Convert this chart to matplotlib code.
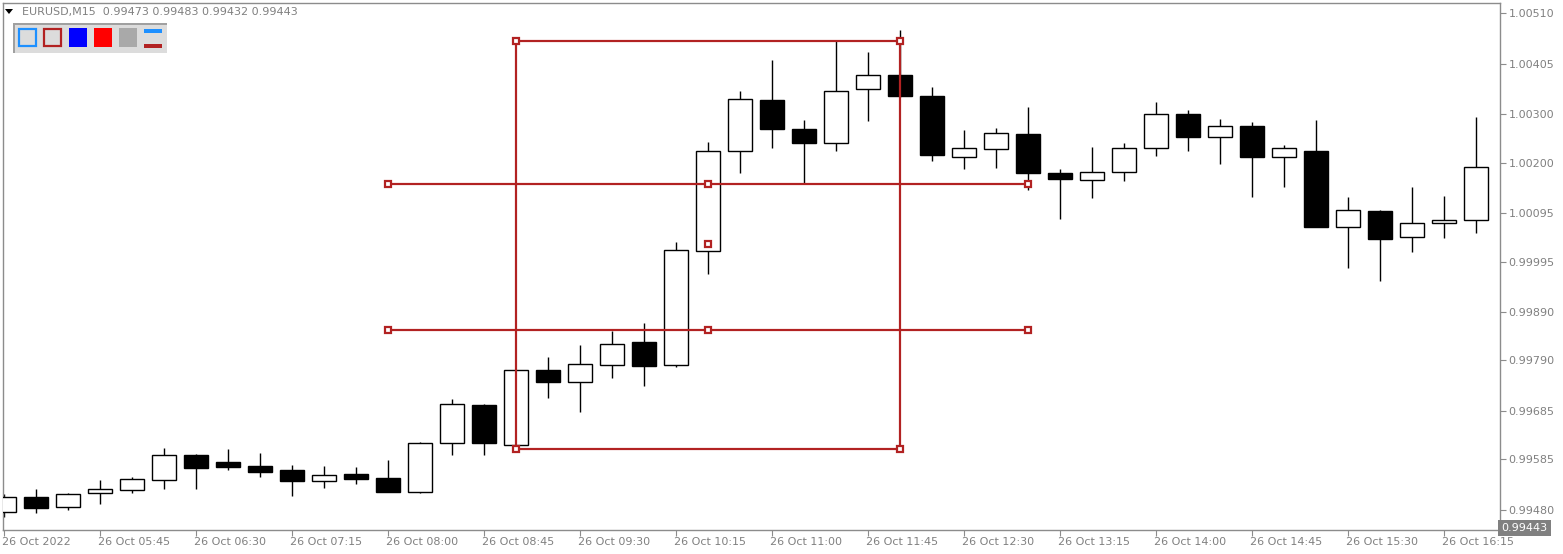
import matplotlib
matplotlib.use("Agg")
import matplotlib.pyplot as plt
import matplotlib.transforms as mtrans
from matplotlib.patches import Rectangle, Polygon

# ---------------- data ----------------
symbol_header = "EURUSD,M15  0.99473 0.99483 0.99432 0.99443"
last_price = 0.99443

opens = [0.99475, 0.99506, 0.99486, 0.99515, 0.99521, 0.99542, 0.99595, 0.99579, 0.99571, 0.99563,
         0.99541, 0.99555, 0.99546, 0.99518, 0.99618, 0.99697, 0.99614, 0.99770, 0.99745, 0.99780,
         0.99828, 0.99780, 1.00016, 1.00223, 1.00330, 1.00270, 1.00240, 1.00352, 1.00381, 1.00338,
         1.00211, 1.00229, 1.00259, 1.00178, 1.00163, 1.00181, 1.00230, 1.00301, 1.00252, 1.00276,
         1.00212, 1.00224, 1.00066, 1.00100, 1.00045, 1.00074, 1.00082]
highs = [0.99513, 0.99524, 0.99515, 0.99542, 0.99548, 0.99608, 0.99596, 0.99606, 0.99598, 0.99573,
         0.99571, 0.99569, 0.99584, 0.99621, 0.99710, 0.99700, 0.99771, 0.99797, 0.99822, 0.99850,
         0.99868, 1.00035, 1.00243, 1.00348, 1.00413, 1.00288, 1.00451, 1.00429, 1.00475, 1.00357,
         1.00268, 1.00272, 1.00315, 1.00187, 1.00232, 1.00241, 1.00326, 1.00309, 1.00290, 1.00284,
         1.00236, 1.00288, 1.00129, 1.00101, 1.00149, 1.00131, 1.00294]
lows = [0.99466, 0.99474, 0.99481, 0.99493, 0.99516, 0.99524, 0.99524, 0.99563, 0.99549, 0.99508,
        0.99526, 0.99534, 0.99517, 0.99516, 0.99595, 0.99593, 0.99613, 0.99713, 0.99684, 0.99754,
        0.99736, 0.99777, 0.99969, 1.00179, 1.00231, 1.00157, 1.00225, 1.00287, 1.00336, 1.00204,
        1.00187, 1.00189, 1.00144, 1.00084, 1.00127, 1.00162, 1.00214, 1.00225, 1.00198, 1.00129,
        1.00150, 1.00066, 0.99982, 0.99955, 1.00015, 1.00044, 1.00055]
closes = [0.99506, 0.99485, 0.99513, 0.99523, 0.99544, 0.99595, 0.99568, 0.99570, 0.99559, 0.99541,
          0.99553, 0.99545, 0.99518, 0.99618, 0.99699, 0.99619, 0.99770, 0.99746, 0.99782, 0.99825,
          0.99779, 1.00018, 1.00223, 1.00331, 1.00270, 1.00241, 1.00348, 1.00381, 1.00337, 1.00216,
          1.00230, 1.00261, 1.00179, 1.00167, 1.00180, 1.00230, 1.00301, 1.00254, 1.00275, 1.00212,
          1.00230, 1.00067, 1.00101, 1.00042, 1.00074, 1.00080, 1.00190]

price_ticks = [1.00510, 1.00405, 1.00300, 1.00200, 1.00095, 0.99995, 0.99890, 0.99790, 0.99685, 0.99585, 0.99480]
price_tick_labels = ["1.00510", "1.00405", "1.00300", "1.00200", "1.00095", "0.99995",
                     "0.99890", "0.99790", "0.99685", "0.99585", "0.99480"]
time_tick_idx = [0, 3, 6, 9, 12, 15, 18, 21, 24, 27, 30, 33, 36, 39, 42, 45]
time_tick_labels = ["26 Oct 2022", "26 Oct 05:45", "26 Oct 06:30", "26 Oct 07:15", "26 Oct 08:00",
                    "26 Oct 08:45", "26 Oct 09:30", "26 Oct 10:15", "26 Oct 11:00", "26 Oct 11:45",
                    "26 Oct 12:30", "26 Oct 13:15", "26 Oct 14:00", "26 Oct 14:45", "26 Oct 15:30",
                    "26 Oct 16:15"]

# drawn objects (bar index, price)
rect_start, rect_end = 16, 28
rect_top, rect_bottom = 1.00452, 0.99606
level_start, level_mid, level_end = 12, 22, 32
levels = [1.00156, 0.99853]
extra_point = (22, 1.00031)

# ---------------- layout ----------------
W, H = 1563, 554
fig = plt.figure(figsize=(W / 100, H / 100), dpi=100)
fig.patch.set_facecolor("white")

L, R, T, B = 3, 1500, 3, 530
ax = fig.add_axes([L / W, 1 - B / H, (R - L) / W, (B - T) / H])
ax.set_facecolor("white")

px_per_bar = 32.0
x0_px = 3.5
ax.set_xlim((L - x0_px) / px_per_bar, (R - x0_px) / px_per_bar)
ppx = 0.0103 / 497.0
ax.set_ylim(1.00510 - (B - 13) * ppx, 1.00510 + (13 - T) * ppx)

gray = "#808080"
for s in ax.spines.values():
    s.set_color("#8c8c8c")
    s.set_linewidth(1.0)

ax.yaxis.tick_right()
ax.set_yticks(price_ticks)
ax.set_yticklabels(price_tick_labels)
ax.set_xticks(time_tick_idx)
ax.set_xticklabels(time_tick_labels, ha="left")
ax.tick_params(axis="y", colors="#8c8c8c", labelcolor=gray, length=4, width=0.8,
               labelsize=8, pad=2, direction="out")
ax.tick_params(axis="x", colors="#8c8c8c", labelcolor=gray, length=4, width=0.8,
               labelsize=8, pad=1, direction="out")
offset = mtrans.ScaledTranslation(-2 / 100, 0, fig.dpi_scale_trans)
for lab in ax.get_xticklabels():
    lab.set_horizontalalignment("left")
    lab.set_transform(lab.get_transform() + offset)

# ---------------- candles ----------------
bw = 0.75
lw_px = 0.72 * 1.4
for i, (o, h, l, c) in enumerate(zip(opens, highs, lows, closes)):
    ax.plot([i, i], [l, h], color="black", lw=lw_px, solid_capstyle="butt", zorder=2)
    bot = min(o, c)
    ht = max(abs(c - o), ppx)
    fc = "white" if c >= o else "black"
    ax.add_patch(Rectangle((i - bw / 2, bot), bw, ht, facecolor=fc, edgecolor="black",
                           lw=lw_px, zorder=3))

# ---------------- drawn objects ----------------
red = "#B22222"
lw_red = 0.72 * 2.2
ax.plot([rect_start, rect_end, rect_end, rect_start, rect_start],
        [rect_top, rect_top, rect_bottom, rect_bottom, rect_top],
        color=red, lw=lw_red, zorder=4, solid_joinstyle="miter")
for lv in levels:
    ax.plot([level_start, level_end], [lv, lv], color=red, lw=lw_red, zorder=4)

sq = dict(marker="s", markersize=5.0, markerfacecolor="white", markeredgecolor=red,
          markeredgewidth=1.6, linestyle="none", zorder=5)
ax.plot([rect_start, rect_end, rect_start, rect_end],
        [rect_top, rect_top, rect_bottom, rect_bottom], **sq)
for lv in levels:
    ax.plot([level_start, level_mid, level_end], [lv, lv, lv], **sq)
ax.plot([extra_point[0]], [extra_point[1]], **sq)


# ---------------- header / toolbar ----------------
def fx(x):
    return x / W


def fy(y):
    return 1 - y / H


fig.text(fx(22), fy(12), symbol_header, color=gray, fontsize=8, va="center", ha="left")
fig.patches.append(Polygon([[fx(5), fy(9)], [fx(13), fy(9)], [fx(9), fy(14)]],
                           closed=True, facecolor="black", edgecolor="none",
                           transform=fig.transFigure, figure=fig))


def frect(x, y, w, h, fc, ec="none", lw=0.0, z=10):
    fig.patches.append(Rectangle((fx(x), fy(y + h)), w / W, h / H, facecolor=fc, edgecolor=ec,
                                 lw=lw, transform=fig.transFigure, figure=fig, zorder=z))


frect(13, 23, 154, 30, "#a0a0a0")
frect(15, 25, 152, 28, "#dcdcdc")
frect(19, 29, 17, 17, "#dcdcdc", ec="#1e90ff", lw=1.6)
frect(44, 29, 17, 17, "#dcdcdc", ec=red, lw=1.6)
frect(69, 28, 18, 19, "#0000ff")
frect(94, 28, 18, 19, "#ff0000")
frect(119, 28, 18, 19, "#a9a9a9")
frect(144, 29, 18, 4, "#1e90ff")
frect(144, 44, 18, 4, red)

# last price box
ax.text(1.0008, last_price, f"{last_price:.5f}", transform=ax.get_yaxis_transform(),
        color="white", fontsize=8, va="center", ha="left", clip_on=False, zorder=20,
        bbox=dict(boxstyle="square,pad=0.3", facecolor="#808080", edgecolor="none"))

fig.savefig("out.png", dpi=100, facecolor="white")
